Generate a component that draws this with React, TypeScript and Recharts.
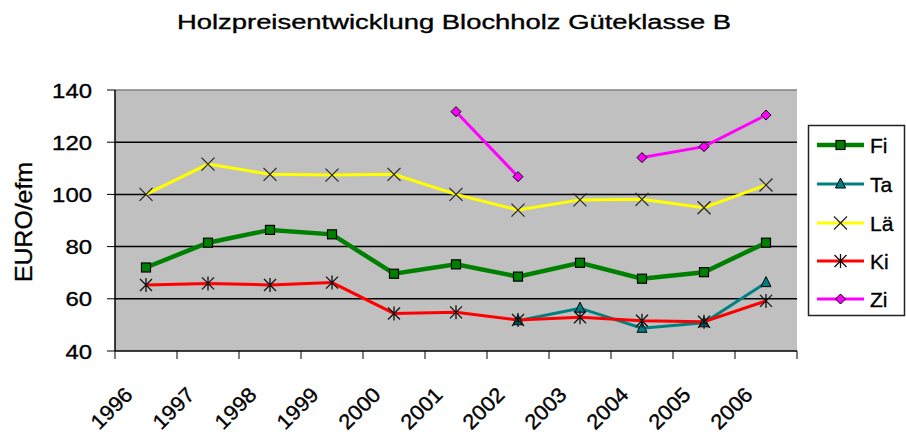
import React from "react";
import {
  ComposedChart,
  Line,
  XAxis,
  YAxis,
  CartesianGrid,
  ReferenceLine,
} from "recharts";

const years = ["1996", "1997", "1998", "1999", "2000", "2001", "2002", "2003", "2004", "2005", "2006"];
const fi = [72, 81.5, 86.4, 84.7, 69.6, 73.2, 68.5, 73.8, 67.7, 70.2, 81.5];
const ta = [null, null, null, null, null, null, 51.6, 56.4, 48.7, 50.8, 66.2];
const lae = [100, 111.6, 107.7, 107.4, 107.7, 100, 94, 97.9, 98.1, 94.9, 103.6];
const ki = [65.3, 65.9, 65.3, 66.2, 54.4, 54.8, 51.9, 52.9, 51.6, 51.2, 59.2];
const zi = [null, null, null, null, null, 131.7, 106.8, null, 114.1, 118.3, 130.4];
const yTicks = [40, 60, 80, 100, 120, 140];

const FONT = "'Liberation Sans', Arial, sans-serif";

const data = years.map((year, i) => ({
  year,
  Fi: fi[i],
  Ta: ta[i],
  "Lä": lae[i],
  Ki: ki[i],
  Zi: zi[i],
}));

const series = [
  { key: "Fi", color: "#008000", width: 4.5, marker: "square" },
  { key: "Ta", color: "#008080", width: 3, marker: "triangle" },
  { key: "Lä", color: "#ffff00", width: 3, marker: "x" },
  { key: "Ki", color: "#ff0000", width: 3, marker: "star" },
  { key: "Zi", color: "#ff00ff", width: 3, marker: "diamond" },
];

// slight outline to match the heavier look of the original text
const textInk = { fill: "#000", stroke: "#000", strokeWidth: 0.35 };

const Marker = ({ type, cx, cy, color }: any) => {
  if (type === "square")
    return <rect x={cx - 4.5} y={cy - 4.5} width={9} height={9} fill={color} stroke="#000" strokeWidth={1.2} />;
  if (type === "triangle")
    return (
      <polygon
        points={`${cx},${cy - 6} ${cx + 5},${cy + 4} ${cx - 5},${cy + 4}`}
        fill={color}
        stroke="#000"
        strokeWidth={1}
      />
    );
  if (type === "x")
    return (
      <path
        d={`M${cx - 6.5},${cy - 6.5}L${cx + 6.5},${cy + 6.5}M${cx - 6.5},${cy + 6.5}L${cx + 6.5},${cy - 6.5}`}
        stroke="#222"
        strokeWidth={1.2}
      />
    );
  if (type === "star")
    return (
      <path
        d={`M${cx - 6},${cy - 6}L${cx + 6},${cy + 6}M${cx - 6},${cy + 6}L${cx + 6},${cy - 6}M${cx},${cy - 7}L${cx},${cy + 7}`}
        stroke="#111"
        strokeWidth={1.3}
      />
    );
  return (
    <polygon
      points={`${cx},${cy - 5} ${cx + 5},${cy} ${cx},${cy + 5} ${cx - 5},${cy}`}
      fill={color}
      stroke="#000"
      strokeWidth={1}
    />
  );
};

const makeDot = (type: string, color: string) => (props: any) => {
  const { cx, cy, index, value } = props;
  if (cx == null || cy == null || value == null) return <g key={index} />;
  return (
    <g key={index}>
      <Marker type={type} cx={cx} cy={cy} color={color} />
    </g>
  );
};

const XTick = (props: any) => {
  const { x, y, payload, index, visibleTicksCount, width } = props;
  const half = width && visibleTicksCount ? width / visibleTicksCount / 2 : 31;
  const tx = x - 12;
  const ty = y + 45;
  return (
    <g>
      <line x1={x - half} x2={x - half} y1={y} y2={y + 8} stroke="#000" />
      {index === visibleTicksCount - 1 && <line x1={x + half} x2={x + half} y1={y} y2={y + 8} stroke="#000" />}
      <g transform={`translate(${tx} ${ty}) rotate(-45)`}>
        <text
          x={0}
          y={0}
          textAnchor="end"
          fontSize={21}
          fontFamily={FONT}
          textLength={49}
          lengthAdjust="spacingAndGlyphs"
          {...textInk}
        >
          {payload.value}
        </text>
      </g>
    </g>
  );
};

const YTick = (props: any) => {
  const { x, y, payload } = props;
  const s = String(payload.value);
  return (
    <text
      x={x}
      y={y + 7.5}
      textAnchor="end"
      fontSize={20.5}
      fontFamily={FONT}
      textLength={s.length * 13.3}
      lengthAdjust="spacingAndGlyphs"
      {...textInk}
    >
      {s}
    </text>
  );
};

const legendY = [145, 184, 223, 261, 299];

export default function App() {
  return (
    <div style={{ position: "absolute", left: 0, top: 0, width: 906, height: 434, background: "#fff" }}>
      <ComposedChart
        width={906}
        height={434}
        data={data}
        margin={{ top: 90, right: 109, bottom: 0, left: 15 }}
      >
        <CartesianGrid
          vertical={false}
          horizontalValues={[60, 80, 100, 120]}
          fill="#c0c0c0"
          fillOpacity={1}
          stroke="#000"
          strokeWidth={1.5}
        />
        <ReferenceLine y={140} stroke="#808080" strokeWidth={1.5} />
        <XAxis
          dataKey="year"
          scale="band"
          interval={0}
          tickLine={false}
          tickSize={0}
          tickMargin={0}
          height={83}
          axisLine={{ stroke: "#000", strokeWidth: 1.5 }}
          tick={<XTick />}
        />
        <YAxis
          domain={[40, 140]}
          ticks={yTicks}
          interval={0}
          width={100}
          tickSize={8}
          tickMargin={15}
          axisLine={{ stroke: "#000", strokeWidth: 1.5 }}
          tickLine={{ stroke: "#000" }}
          tick={<YTick />}
        />
        <YAxis
          yAxisId="r"
          orientation="right"
          width={0}
          tick={false}
          tickLine={false}
          axisLine={{ stroke: "#808080", strokeWidth: 1.5 }}
        />
        {series.map((s) => (
          <Line
            key={s.key}
            dataKey={s.key}
            type="linear"
            stroke={s.color}
            strokeWidth={s.width}
            dot={makeDot(s.marker, s.color)}
            activeDot={false}
            connectNulls={false}
            isAnimationActive={false}
          />
        ))}
      </ComposedChart>
      <svg
        width={906}
        height={434}
        style={{ position: "absolute", left: 0, top: 0, pointerEvents: "none" }}
      >
        <text
          x={454}
          y={29}
          textAnchor="middle"
          fontSize={20}
          fontFamily={FONT}
          textLength={554}
          lengthAdjust="spacingAndGlyphs"
          {...textInk}
        >
          Holzpreisentwicklung Blochholz Güteklasse B
        </text>
        <text
          transform="translate(32 222) rotate(-90)"
          textAnchor="middle"
          fontSize={24}
          fontFamily={FONT}
          textLength={120}
          lengthAdjust="spacingAndGlyphs"
          {...textInk}
        >
          EURO/efm
        </text>
        <rect x={808.5} y={125.5} width={96} height={190} fill="#fff" stroke="#222" strokeWidth={1.5} />
        {series.map((s, i) => (
          <g key={s.key}>
            <line x1={817} x2={864} y1={legendY[i]} y2={legendY[i]} stroke={s.color} strokeWidth={s.width} />
            <Marker type={s.marker} cx={840.5} cy={legendY[i]} color={s.color} />
            <text x={870} y={legendY[i] + 8} fontSize={21} fontFamily={FONT} {...textInk}>
              {s.key}
            </text>
          </g>
        ))}
      </svg>
    </div>
  );
}
